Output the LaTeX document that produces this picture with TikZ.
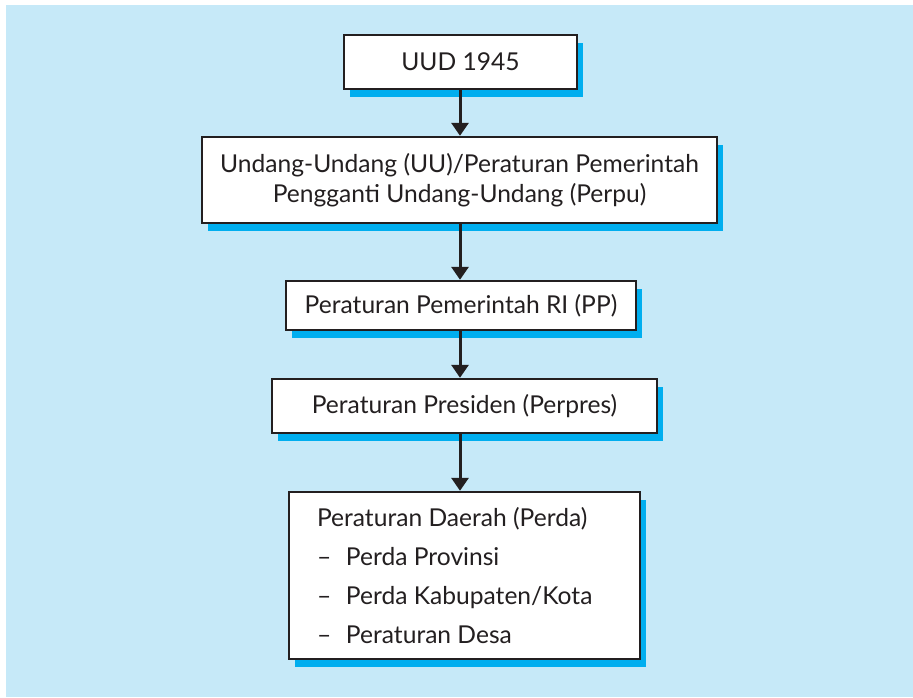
\documentclass[tikz,border=0pt]{standalone}
\usepackage{fontspec}
\setmainfont{Lato}
\usetikzlibrary{arrows.meta,shadows}
\definecolor{panel}{HTML}{C6E9F8}
\definecolor{shade}{HTML}{00AEEF}
\definecolor{ink}{HTML}{231F20}
\tikzset{
  stepbox/.style={draw=ink, line width=2.4pt, fill=white, text=ink,
    inner sep=0pt, align=center,
    font=\fontsize{24.6}{30}\selectfont,
    drop shadow={shadow xshift=6pt, shadow yshift=-8pt, fill=shade, opacity=1}},
  flow/.style={draw=ink, line width=3pt, -{Triangle[width=17pt,length=13pt]}}
}
\begin{document}
\begin{tikzpicture}[x=1pt,y=-1pt]
  \useasboundingbox (0,0) rectangle (913,697);
  \fill[panel] (6,5) rectangle (913,697);

  \node[stepbox, minimum width=233pt, minimum height=54pt] (b1) at (460.5,62) {UUD 1945};
  \node[stepbox, minimum width=515pt, minimum height=86pt] (b2) at (459.5,180)
    {Undang-Undang (UU)/Peraturan Pemerintah\\Pengganti Undang-Undang (Perpu)};
  \node[stepbox, minimum width=350pt, minimum height=49pt] (b3) at (461,305.5)
    {Peraturan Pemerintah RI (PP)};
  \node[stepbox, minimum width=385pt, minimum height=54pt] (b4) at (464.5,406)
    {Peraturan Presiden (Perpres)};
  \node[stepbox, minimum width=351pt, minimum height=167pt, text width=295pt,
        align=flush left, font=\fontsize{24.6}{39}\selectfont] (b5) at (464.5,575.5)
    {Peraturan Daerah (Perda)\\
     \makebox[29pt][l]{--}Perda Provinsi\\
     \makebox[29pt][l]{--}Perda Kabupaten/Kota\\
     \makebox[29pt][l]{--}Peraturan Desa};

  \coordinate (axis) at (460,0);
  \draw[flow] (b1.south -| axis) -- (b2.north -| axis);
  \draw[flow] (b2.south -| axis) -- (b3.north -| axis);
  \draw[flow] (b3.south -| axis) -- (b4.north -| axis);
  \draw[flow] (b4.south -| axis) -- (b5.north -| axis);
\end{tikzpicture}
\end{document}
